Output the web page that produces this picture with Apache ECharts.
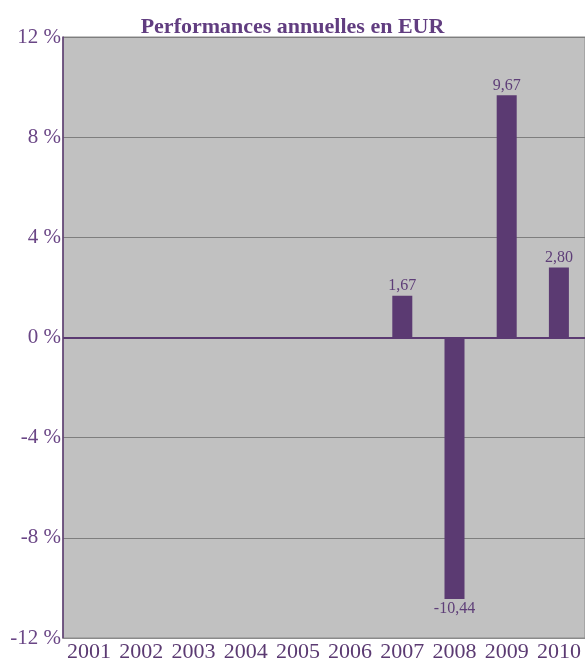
<!DOCTYPE html>
<html>
<head>
<meta charset="utf-8">
<script src="https://cdn.jsdelivr.net/npm/echarts@6/dist/echarts.min.js"></script>
<style>
  html, body { margin: 0; padding: 0; background: #fff; }
  #main { width: 585px; height: 663px; }
</style>
</head>
<body>
<div id="main"></div>
<script>
var years = ['2001', '2002', '2003', '2004', '2005', '2006', '2007', '2008', '2009', '2010'];
var perf = [null, null, null, null, null, null, 1.67, -10.44, 9.67, 2.80];

var purple = '#5b3a72';
var myChart = echarts.init(document.getElementById('main'));
myChart.setOption({
  animation: false,
  title: {
    text: 'Performances annuelles en EUR',
    left: 'center',
    top: 11,
    textStyle: {
      fontFamily: 'Liberation Serif',
      fontWeight: 'bold',
      fontSize: 22,
      color: '#613d80'
    }
  },
  grid: {
    left: 63,
    right: 0,
    top: 37,
    bottom: 23,
    show: true,
    backgroundColor: '#c1c1c1',
    borderColor: '#8a8a8a',
    borderWidth: 1
  },
  xAxis: {
    type: 'category',
    data: years,
    axisLine: { onZero: false, lineStyle: { color: '#8a8a8a' } },
    axisTick: { inside: true, length: 5, lineStyle: { color: '#7a7a7a' } },
    axisLabel: {
      interval: 0,
      hideOverlap: false,
      margin: 3,
      color: purple,
      fontFamily: 'Liberation Serif',
      fontSize: 22
    }
  },
  yAxis: {
    type: 'value',
    min: -12,
    max: 12,
    interval: 4,
    axisLine: { show: true, lineStyle: { color: purple, width: 1.5 } },
    axisTick: { show: false },
    splitLine: { lineStyle: { color: '#7e7e7e', width: 1 } },
    axisLabel: {
      margin: 2,
      color: '#6a4686',
      fontFamily: 'Liberation Serif',
      fontSize: 21,
      formatter: function (v) { return v + ' %'; }
    }
  },
  series: [
    {
      type: 'bar',
      data: perf.map(function (v) {
        return v === null ? null : { value: v, label: { position: v < 0 ? 'bottom' : 'top' } };
      }),
      barWidth: 20,
      itemStyle: { color: purple },
      label: {
        show: true,
        distance: 2,
        color: '#5e3e78',
        fontFamily: 'Liberation Serif',
        fontSize: 16,
        formatter: function (p) { return p.value.toFixed(2).replace('.', ','); }
      },
      markLine: {
        silent: true,
        symbol: 'none',
        label: { show: false },
        lineStyle: { color: purple, type: 'solid', width: 2 },
        data: [{ yAxis: 0 }]
      }
    }
  ]
});
</script>
</body>
</html>
